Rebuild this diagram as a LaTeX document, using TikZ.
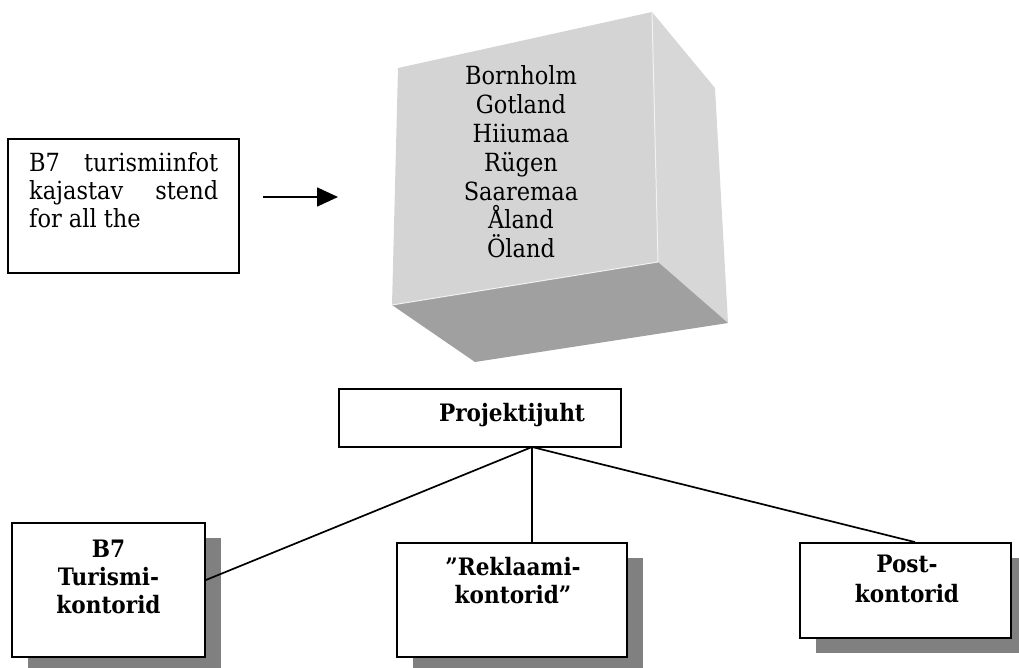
\documentclass[tikz,border=0pt]{standalone}
\usepackage{fontspec}
\setmainfont{DejaVu Serif Condensed}
\usetikzlibrary{arrows.meta,shadows,calc}
\definecolor{frontgray}{HTML}{D4D4D4}
\definecolor{sidegray}{HTML}{D7D7D7}
\definecolor{bottomgray}{HTML}{A0A0A0}
\definecolor{shadowgray}{HTML}{808080}
\tikzset{
  box/.style={draw, line width=1.8pt, fill=white, inner sep=0pt},
  shadowbox/.style={box, general shadow={fill=shadowgray, shadow xshift=16pt, shadow yshift=-15pt}},
  conn/.style={line width=1.7pt},
  reg/.style={anchor=base, inner sep=0pt, font=\fontsize{25}{28}\selectfont},
  bld/.style={anchor=base, inner sep=0pt, font=\fontsize{24}{28}\selectfont\bfseries},
}
\begin{document}
\begin{tikzpicture}[x=1pt,y=-1pt]
\useasboundingbox (0,0) rectangle (1019,668);
% cube
\fill[frontgray] (398,68) -- (652,12) -- (658,262) -- (392,305) -- cycle;
\fill[sidegray] (652,12) -- (715,88) -- (728,323) -- (658,262) -- cycle;
\fill[bottomgray] (392,305) -- (658,262) -- (728,323) -- (475,362) -- cycle;
\draw[white!70!frontgray, line width=1pt] (652,12) -- (658,262);
\draw[white!70!frontgray, line width=1pt] (392,305) -- (658,262);
\foreach \t [count=\i from 0] in {Bornholm,Gotland,Hiiumaa,Rügen,Saaremaa,Åland,Öland}
  \node[reg] (isl\i) at (521,85+28.8*\i) {\t};
% info box
\node[box, minimum width=231pt, minimum height=134pt] (info) at (123.5,206) {};
\node[reg, anchor=base west] (info1) at (29,172) {\hbox to 189pt{B7\hfill turismiinfot}};
\node[reg, anchor=base west] (info2) at (29,200) {\hbox to 189pt{kajastav\hfill stend}};
\node[reg, anchor=base west] (info3) at (29,228) {for all the};
\coordinate (a1) at (263,197);
\coordinate (a2) at (338,197);
\draw[conn, -{Triangle[length=21pt,width=19pt]}] (a1) -- (a2);
% Projektijuht
\node[box, minimum width=282pt, minimum height=58pt] (pj) at (480,418) {};
\node[bld] (pjt) at (512,421) {Projektijuht};
% bottom boxes
\node[shadowbox, minimum width=193pt, minimum height=134pt] (b7) at (108.5,590) {};
\node[bld] (b7a) at (108.5,557) {B7};
\node[bld] (b7b) at (108.5,585) {Turismi-};
\node[bld] (b7c) at (108.5,613) {kontorid};
\node[shadowbox, minimum width=230pt, minimum height=114pt] (rk) at (512,600) {};
\node[bld] (rka) at (513,575) {”Reklaami-};
\node[bld] (rkb) at (513,603) {kontorid”};
\node[shadowbox, minimum width=211pt, minimum height=95pt] (post) at (905.5,590.5) {};
\node[bld] (posta) at (907,572) {Post-};
\node[bld] (postb) at (907,602) {kontorid};
% connectors
\coordinate (hub) at (532,447);
\draw[conn] (hub) -- ($(b7.east)+(0,-10)$);
\draw[conn] (hub) -- (hub |- rk.north);
\draw[conn] (hub) -- ($(post.north)+(9.5,0)$);
\end{tikzpicture}
\end{document}
